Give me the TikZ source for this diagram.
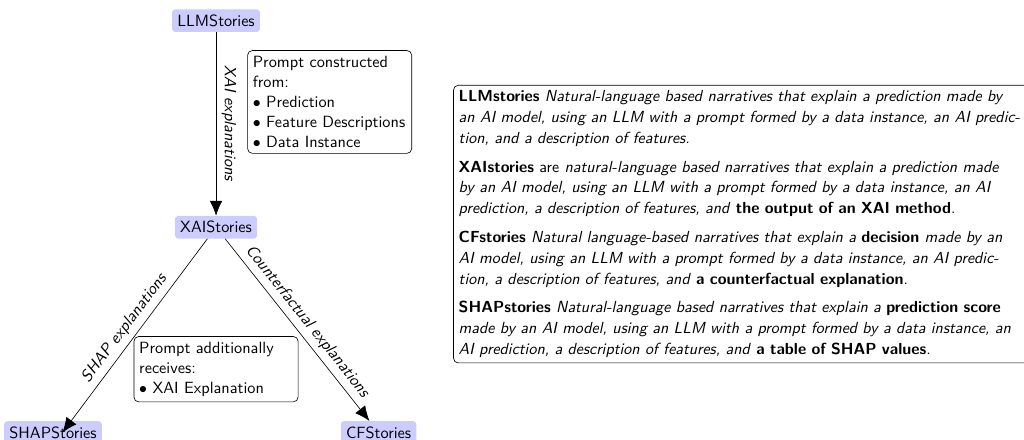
\documentclass[tikz,border=0pt]{standalone}
\usetikzlibrary{arrows.meta}
\tikzset{
  story/.style={fill=blue!20,rounded corners=2pt},
  promptbox/.style={draw,rounded corners=3pt,text width=3.42cm,align=left,font=\sffamily\fontsize{10.3}{12.8}\selectfont},
  flow/.style={-{Latex[length=3.3mm,width=2.8mm]}}
}
\begin{document}
\begin{tikzpicture}[font=\sffamily\fontsize{10.3}{12.8}\selectfont]
  \useasboundingbox (0,0) rectangle (22.8,9.78);
  \node[story] (llm) at (4.81,9.32) {LLMStories};
  \node[story] (xai) at (4.81,4.72) {XAIStories};
  \node[story] (shap) at (1.18,0.15) {SHAPStories};
  \node[story] (cf) at (8.43,0.15) {CFStories};
  \draw[flow] (llm) -- node[midway,above,sloped] {\textit{XAI explanations}} (xai);
  \draw[flow] (xai) -- node[midway,above,sloped] {\textit{SHAP explanations}} ([xshift=6pt]shap.center);
  \draw[flow] (xai) -- node[midway,above,sloped] {\textit{Counterfactual explanations}} (cf);
  \node[promptbox] (from) at (7.34,7.51) {Prompt constructed\\ from:\\
    $\bullet$ Prediction\\ $\bullet$ Feature Descriptions\\ $\bullet$ Data Instance};
  \node[promptbox] (extra) at (4.81,1.56) {Prompt additionally\\ receives:\\
    $\bullet$ XAI Explanation};
  \node[draw,rounded corners=3pt,anchor=west,text width=13.4cm,align=left,font=\sffamily\fontsize{10.15}{13.2}\selectfont]
    (defs) at (10.09,4.79) {\textbf{LLMstories} \textit{Natural-language based narratives that explain a prediction made by}\\
    \textit{an AI model, using an LLM with a prompt formed by a data instance, an AI predic-}\\
    \textit{tion, and a description of features.}\\[5pt]
    \textbf{XAIstories} are \textit{natural-language based narratives that explain a prediction made}\\
    \textit{by an AI model, using an LLM with a prompt formed by a data instance, an AI}\\
    \textit{prediction, a description of features, and} \textbf{the output of an XAI method}.\\[5pt]
    \textbf{CFstories} \textit{Natural language-based narratives that explain a} \textbf{decision} \textit{made by an}\\
    \textit{AI model, using an LLM with a prompt formed by a data instance, an AI predic-}\\
    \textit{tion, a description of features, and} \textbf{a counterfactual explanation}.\\[5pt]
    \textbf{SHAPstories} \textit{Natural-language based narratives that explain a} \textbf{prediction score}\\
    \textit{made by an AI model, using an LLM with a prompt formed by a data instance, an}\\
    \textit{AI prediction, a description of features, and} \textbf{a table of SHAP values}.};
\end{tikzpicture}
\end{document}
